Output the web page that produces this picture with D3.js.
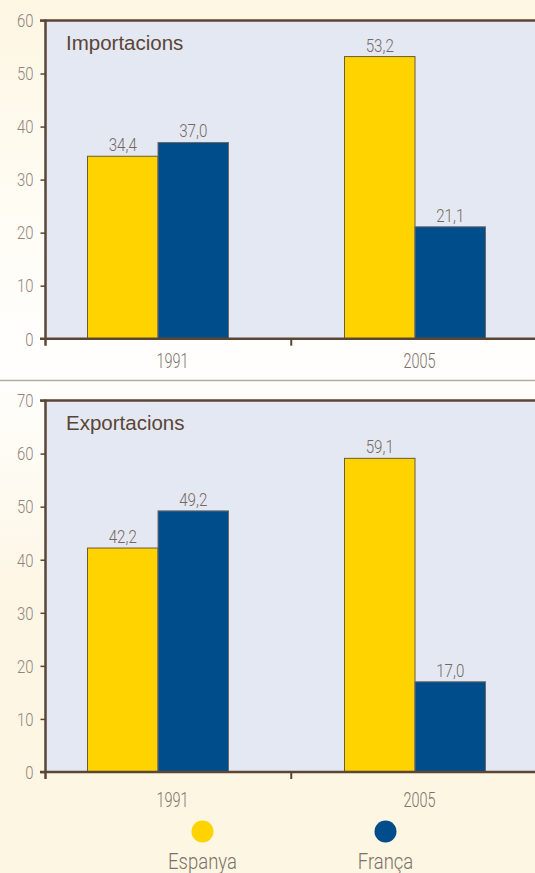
<!DOCTYPE html>
<html><head><meta charset="utf-8">
<script src="https://cdn.jsdelivr.net/npm/d3@7"></script>
<style>html,body{margin:0;padding:0;background:#fff;}svg{display:block;}</style>
</head><body>
<svg id="c" width="535" height="873"></svg>
<script>
const years = ["1991", "2005"];
const series = ["Espanya", "França"];
const importEspanya = [34.4, 53.2];
const importFranca = [37.0, 21.1];
const exportEspanya = [42.2, 59.1];
const exportFranca = [49.2, 17.0];
const importTicks = [0, 10, 20, 30, 40, 50, 60];
const exportTicks = [0, 10, 20, 30, 40, 50, 60, 70];
const colors = {"Espanya": "#ffd300", "França": "#004d8b"};
const strokes = {"Espanya": "#6e5a34", "França": "#6f6a68"};
const fmt = v => d3.format(".1f")(v).replace(".", ",");

const LIGHT = "Roboto, 'Liberation Sans', sans-serif";
function condense(sel, k) {
  sel.each(function() {
    const t = d3.select(this);
    const x = +t.attr("x") || 0, y = +t.attr("y") || 0;
    t.attr("x", 0).attr("y", 0).attr("transform", `translate(${x},${y}) scale(${k},1)`);
  });
}

const svg = d3.select("#c");
const W = 535;
const defs = svg.append("defs");
const g1 = defs.append("linearGradient").attr("id","bg1").attr("x1",0).attr("x2",0).attr("y1",0).attr("y2",1);
g1.append("stop").attr("offset","0").attr("stop-color","#fdf6e2");
g1.append("stop").attr("offset","0.55").attr("stop-color","#fffcf4");
g1.append("stop").attr("offset","0.9").attr("stop-color","#fffefc");
const g2 = defs.append("linearGradient").attr("id","bg2").attr("x1",0).attr("x2",0).attr("y1",0).attr("y2",1);
g2.append("stop").attr("offset","0").attr("stop-color","#fffefc");
g2.append("stop").attr("offset","0.45").attr("stop-color","#fdf6e4");
g2.append("stop").attr("offset","1").attr("stop-color","#fdf6e2");

svg.append("rect").attr("x",0).attr("y",0).attr("width",W).attr("height",381).attr("fill","url(#bg1)");
svg.append("rect").attr("x",0).attr("y",381).attr("width",W).attr("height",492).attr("fill","url(#bg2)");
svg.append("line").attr("x1",0).attr("x2",W).attr("y1",380.5).attr("y2",380.5).attr("stroke","#b3aaa2").attr("stroke-width",1.5);

const axisX = 45.5;
const x0 = d3.scaleBand().domain(years).range([29.5, 543.5]);
const x1 = d3.scaleBand().domain(series).range([0, x0.bandwidth()]).paddingInner(0).paddingOuter(0.8227);
const xl = d3.scaleBand().domain(years).range([49, 543]);

function panel(title, esp, fra, ticks, yTop, yZero, labelY) {
  const maxV = ticks[ticks.length-1];
  const y = d3.scaleLinear().domain([0, maxV]).range([yZero, yTop]);
  const g = svg.append("g");
  g.append("rect").attr("x", axisX).attr("y", yTop).attr("width", W-axisX).attr("height", yZero-yTop).attr("fill", "#e4e8f3");
  g.append("text").attr("x", 66).attr("y", yTop + 29).text(title)
    .attr("font-family", "'Liberation Sans', Arial, sans-serif").attr("font-size", 20.5).attr("fill", "#5a4535");

  const data = years.map((yr, i) => ({year: yr, vals: [{s: "Espanya", v: esp[i]}, {s: "França", v: fra[i]}]}));
  const grp = g.selectAll("g.grp").data(data).join("g").attr("class","grp").attr("transform", d => `translate(${x0(d.year)},0)`);
  grp.selectAll("rect").data(d => d.vals).join("rect")
    .attr("x", d => x1(d.s)).attr("width", x1.bandwidth())
    .attr("y", d => y(d.v)).attr("height", d => yZero - y(d.v))
    .attr("fill", d => colors[d.s]).attr("stroke", d => strokes[d.s]).attr("stroke-width", 1);
  grp.selectAll("text").data(d => d.vals).join("text")
    .attr("x", d => x1(d.s) + x1.bandwidth()/2).attr("y", d => y(d.v) - 5)
    .attr("text-anchor", "middle").text(d => fmt(d.v))
    .attr("font-family", LIGHT).attr("font-weight", 300).attr("font-size", 18.5)
    .attr("fill", "#75685f")
    .call(condense, 0.82);

  // y axis
  const ya = g.append("g").attr("transform", `translate(${axisX},0)`)
    .call(d3.axisLeft(y).tickValues(ticks).tickSize(5).tickPadding(7).tickFormat(d3.format("d")));
  ya.select(".domain").remove();
  ya.selectAll(".tick line").attr("stroke", "#5b4636").attr("stroke-width", 1.5);
  ya.selectAll(".tick text").attr("font-family", LIGHT).attr("font-weight", 300)
    .attr("font-size", 17.5).attr("fill", "#8f847c").attr("dy", "0.36em")
    .call(condense, 0.85);

  // frame lines
  g.append("line").attr("x1", axisX).attr("x2", axisX).attr("y1", yTop-1).attr("y2", yZero+7).attr("stroke", "#5b4636").attr("stroke-width", 2.5);
  g.append("line").attr("x1", 40).attr("x2", W).attr("y1", yTop).attr("y2", yTop).attr("stroke", "#5b4636").attr("stroke-width", 2.5);
  g.append("line").attr("x1", 40).attr("x2", W).attr("y1", yZero).attr("y2", yZero).attr("stroke", "#5b4636").attr("stroke-width", 2.5);
  const midTick = (x0("2005") + xl("2005")) / 2;
  g.append("line").attr("x1", midTick).attr("x2", midTick).attr("y1", yZero).attr("y2", yZero+7).attr("stroke", "#5b4636").attr("stroke-width", 2);

  // x labels
  const xa = g.append("g").attr("transform", `translate(0,${labelY})`)
    .call(d3.axisBottom(xl).tickSize(0).tickPadding(0));
  xa.select(".domain").remove();
  xa.selectAll(".tick text").attr("font-family", LIGHT).attr("font-weight", 300)
    .attr("font-size", 19.5).attr("fill", "#7d716a").attr("dy", 0).attr("y", 0)
    .call(condense, 0.74);
}

panel("Importacions", importEspanya, importFranca, importTicks, 20.5, 338.7, 368);
panel("Exportacions", exportEspanya, exportFranca, exportTicks, 400.5, 772, 807);

// legend
const legX = d3.scaleOrdinal().domain(series).range([202.5, 385.5]);
const leg = svg.selectAll("g.leg").data(series).join("g").attr("class","leg").attr("transform", d => `translate(${legX(d)},0)`);
leg.append("circle").attr("cx", 0).attr("cy", 831.5).attr("r", 11).attr("fill", d => colors[d]);
leg.append("text").attr("x", 0).attr("y", 868.5).attr("text-anchor", "middle").text(d => d)
  .attr("font-family", LIGHT).attr("font-weight", 300).attr("font-size", 21.5)
  .attr("fill", "#7d7068")
  .call(condense, 0.86);
</script>
</body></html>
